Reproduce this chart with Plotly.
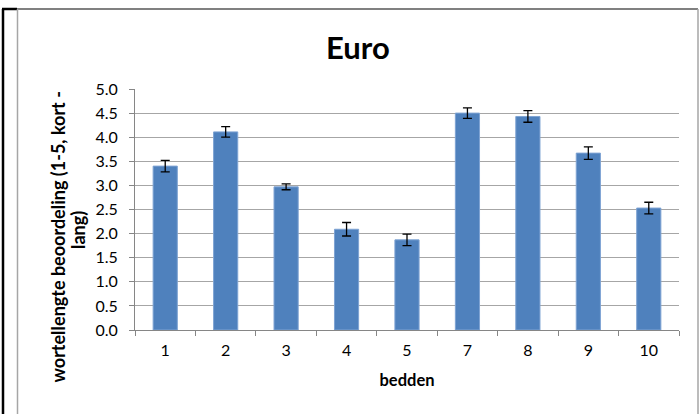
import plotly.graph_objects as go

bedden = ["1", "2", "3", "4", "5", "7", "8", "9", "10"]
beoordeling = [3.40, 4.11, 2.97, 2.09, 1.87, 4.50, 4.43, 3.67, 2.53]
fout = [0.12, 0.11, 0.06, 0.14, 0.12, 0.11, 0.12, 0.13, 0.12]
y_ticks = [0.0, 0.5, 1.0, 1.5, 2.0, 2.5, 3.0, 3.5, 4.0, 4.5, 5.0]

W, H = 700, 414
L, R, T, B = 135, 21, 89, 84
pw, ph = W - L - R, H - T - B

def px(x):
    return (x - L) / pw

def py(y):
    return (H - B - y) / ph

FONT = "Lato"

fig = go.Figure()
fig.add_trace(go.Bar(
    x=bedden, y=beoordeling,
    marker=dict(color="#4F81BD", line=dict(color="#7EA3D3", width=1)),
    width=0.4,
    error_y=dict(type="data", array=fout, visible=True, color="#000000",
                 thickness=1.3, width=4.5),
))

shapes = [
    dict(type="line", xref="paper", yref="paper", x0=px(3), x1=px(3), y0=py(9), y1=py(420),
         line=dict(color="#000000", width=2.5)),
    dict(type="line", xref="paper", yref="paper", x0=px(2), x1=px(17), y0=py(9), y1=py(9),
         line=dict(color="#000000", width=2.5)),
    dict(type="line", xref="paper", yref="paper", x0=px(17), x1=px(698), y0=py(9), y1=py(9),
         line=dict(color="#808080", width=2)),
    dict(type="line", xref="paper", yref="paper", x0=px(17.5), x1=px(17.5), y0=py(9), y1=py(420),
         line=dict(color="#A6A6A6", width=1.5)),
    dict(type="line", xref="paper", yref="paper", x0=px(698), x1=px(698), y0=py(9), y1=py(420),
         line=dict(color="#A6A6A6", width=1.5)),
]

fig.update_layout(
    width=W, height=H,
    margin=dict(l=L, r=R, t=T, b=B),
    paper_bgcolor="#FFFFFF", plot_bgcolor="#FFFFFF",
    font=dict(family=FONT, size=16, color="#000000"),
    showlegend=False,
    shapes=shapes,
    annotations=[
        dict(text="<b>Euro</b>", xref="paper", yref="paper", x=px(358), y=py(47),
             xanchor="center", yanchor="middle", showarrow=False,
             font=dict(family=FONT, size=31, color="#000000")),
        dict(text="<b>wortellengte beoordeling (1-5, kort -</b>",
             xref="paper", yref="paper", x=px(57.5), y=py(237),
             xanchor="center", yanchor="middle", showarrow=False, textangle=-90,
             font=dict(family=FONT, size=18, color="#000000")),
        dict(text="<b>lang)</b>",
             xref="paper", yref="paper", x=px(78), y=py(230),
             xanchor="center", yanchor="middle", showarrow=False, textangle=-90,
             font=dict(family=FONT, size=18, color="#000000")),
    ],
    xaxis=dict(
        type="category",
        showgrid=False,
        showline=True, linecolor="#868686", linewidth=1,
        ticks="outside", tickson="boundaries", ticklen=5, tickcolor="#868686",
        tickfont=dict(size=16), ticklabelstandoff=6,
        title=dict(text="<b>bedden</b>", font=dict(size=16.5), standoff=16),
    ),
    yaxis=dict(
        range=[0, 5.0],
        tickvals=y_ticks,
        ticktext=[f"{v:.1f}" for v in y_ticks],
        showgrid=True, gridcolor="#A6A6A6", gridwidth=1,
        showline=True, linecolor="#868686", linewidth=1,
        ticks="outside", ticklen=5, tickcolor="#868686",
        tickfont=dict(size=16), ticklabelstandoff=8,
        zeroline=False,
    ),
    bargap=0.6,
)

fig.write_html("out.html", config={"displayModeBar": False},
               post_script="document.body.style.margin='0';document.body.style.padding='0';")
